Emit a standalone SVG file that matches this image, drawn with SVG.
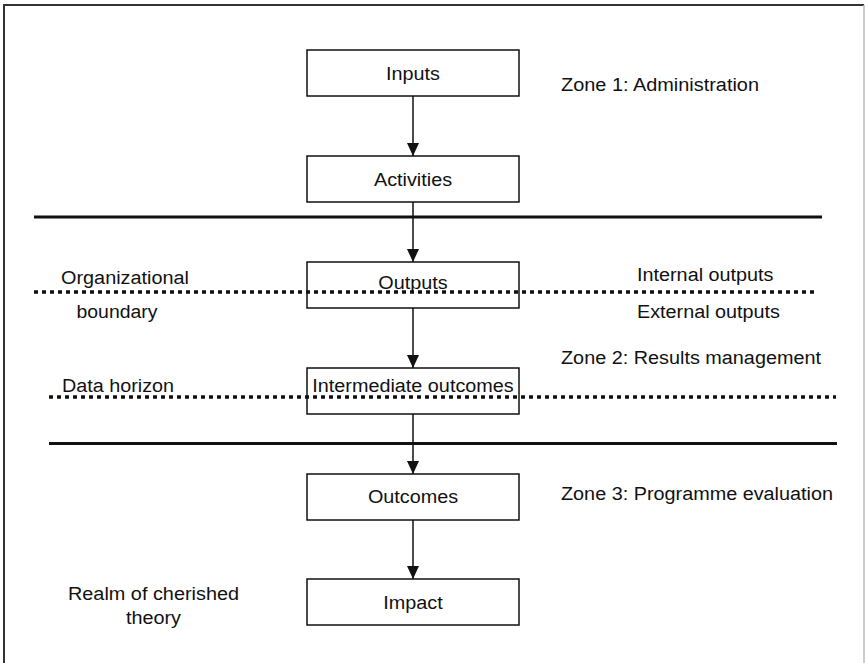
<svg xmlns="http://www.w3.org/2000/svg" width="867" height="663" viewBox="0 0 867 663">
<defs>
<style>
text{font-family:"Liberation Sans",Arial,Helvetica,sans-serif;font-size:18px;fill:#111;}
.c{text-anchor:middle;}
.box{fill:#fff;stroke:#111;stroke-width:1.5;}
.edge{stroke:#111;stroke-width:1.5;fill:none;marker-end:url(#ah);}
.solid{stroke:#111;stroke-width:3;}
.dot{stroke:#111;stroke-width:3.5;stroke-dasharray:4 4;}
</style>
<marker id="ah" markerUnits="userSpaceOnUse" markerWidth="14" markerHeight="12" refX="13" refY="6" orient="auto">
<path d="M0,0 L13,6 L0,12 z" fill="#111"/>
</marker>
</defs>
<rect x="0" y="0" width="867" height="663" fill="#fff"/>
<path d="M4,670 V5 H864" fill="none" stroke="#333" stroke-width="2"/>
<line x1="864" y1="5" x2="864" y2="663" stroke="#bbb" stroke-width="1.5"/>

<g id="nodes">
<g id="inputs"><rect class="box" x="307" y="50" width="212" height="46"/><text class="c" x="413" y="80" textLength="53.9" lengthAdjust="spacingAndGlyphs">Inputs</text></g>
<g id="activities"><rect class="box" x="307" y="156" width="212" height="46"/><text class="c" x="413" y="186" textLength="78.1" lengthAdjust="spacingAndGlyphs">Activities</text></g>
<g id="outputs"><rect class="box" x="307" y="262" width="212" height="46"/><text class="c" x="413" y="289" textLength="69.3" lengthAdjust="spacingAndGlyphs">Outputs</text></g>
<g id="intermediate"><rect class="box" x="307" y="368" width="212" height="46"/><text class="c" x="413" y="392" textLength="201.4" lengthAdjust="spacingAndGlyphs">Intermediate outcomes</text></g>
<g id="outcomes"><rect class="box" x="307" y="474" width="212" height="46"/><text class="c" x="413" y="503" textLength="90.2" lengthAdjust="spacingAndGlyphs">Outcomes</text></g>
<g id="impact"><rect class="box" x="307" y="579" width="212" height="46"/><text class="c" x="413" y="609" textLength="59.4" lengthAdjust="spacingAndGlyphs">Impact</text></g>
</g>

<g id="boundaries">
<line class="solid" x1="34" y1="217" x2="822" y2="217"/>
<line class="dot" x1="34" y1="292" x2="818" y2="292"/>
<line class="dot" x1="49" y1="397" x2="836" y2="397"/>
<line class="solid" x1="49" y1="443.5" x2="837" y2="443.5"/>
</g>

<g id="connectors">
<line class="edge" x1="413" y1="96" x2="413" y2="156"/>
<line class="edge" x1="413" y1="202" x2="413" y2="262"/>
<line class="edge" x1="413" y1="308" x2="413" y2="368"/>
<line class="edge" x1="413" y1="414" x2="413" y2="474"/>
<line class="edge" x1="413" y1="520" x2="413" y2="579"/>
</g>

<g id="labels">
<text x="561" y="91" textLength="198" lengthAdjust="spacingAndGlyphs">Zone 1: Administration</text>
<text x="637" y="281" textLength="136.5" lengthAdjust="spacingAndGlyphs">Internal outputs</text>
<text x="637" y="318" textLength="143" lengthAdjust="spacingAndGlyphs">External outputs</text>
<text x="561" y="364" textLength="260" lengthAdjust="spacingAndGlyphs">Zone 2: Results management</text>
<text x="561" y="500" textLength="272" lengthAdjust="spacingAndGlyphs">Zone 3: Programme evaluation</text>
<text class="c" x="125" y="284" textLength="128" lengthAdjust="spacingAndGlyphs">Organizational</text>
<text class="c" x="117" y="318" textLength="81" lengthAdjust="spacingAndGlyphs">boundary</text>
<text x="62" y="392" textLength="112" lengthAdjust="spacingAndGlyphs">Data horizon</text>
<text class="c" x="153.5" y="600" textLength="171" lengthAdjust="spacingAndGlyphs">Realm of cherished</text>
<text class="c" x="153.5" y="624" textLength="55" lengthAdjust="spacingAndGlyphs">theory</text>
</g>
</svg>
